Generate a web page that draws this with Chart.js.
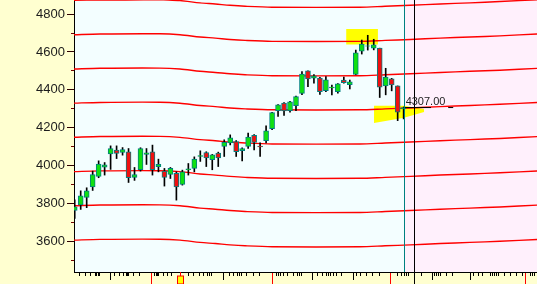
<!DOCTYPE html>
<html>
<head>
<meta charset="utf-8">
<script src="https://cdn.jsdelivr.net/npm/chart.js@4.4.1/dist/chart.umd.min.js"></script>
<style>
  html, body { margin: 0; padding: 0; background: #FFFFD0; }
  #wrap { width: 537px; height: 284px; }
</style>
</head>
<body>
<div id="wrap"><canvas id="chart" width="537" height="284"></canvas></div>
<script>
// daily candles, index 0 = first day on screen
const candleOpen  = [3765,3793,3833,3889,3944,3993,4062,4083,4070,4074,3939,3979,4060,4074,3995,3972,3954,3960,3902,3979,3986,4050,4070,4032,4067,4102,4121,4128,4080,4102,4161,4104,4132,4195,4291,4330,4291,4317,4381,4500,4462,4462,4396,4411,4391,4452,4428,4481,4604,4630,4620,4620,4421,4458,4421,4300];
const candleHigh  = [3820,3868,3884,3972,4026,4017,4105,4105,4096,4091,3991,4095,4091,4109,4035,3986,3991,3968,3977,4012,4047,4079,4074,4060,4072,4137,4163,4133,4095,4172,4165,4121,4211,4282,4323,4333,4340,4368,4496,4500,4481,4466,4470,4425,4434,4467,4452,4610,4663,4688,4667,4620,4514,4461,4421,4310];
const candleLow   = [3723,3770,3779,3870,3937,3951,3981,4038,4056,3912,3923,3972,4007,3951,3968,3893,3933,3819,3898,3951,3968,4023,3996,3979,3996,4049,4110,4049,4025,4091,4084,4050,4121,4190,4260,4265,4283,4290,4375,4417,4435,4376,4391,4374,4383,4435,4405,4480,4589,4610,4611,4360,4374,4395,4238,4247];
const candleClose = [3784,3842,3868,3954,4009,4005,4091,4065,4086,3937,3954,4091,4068,3979,4007,3938,3986,3889,3968,3984,4035,4054,4041,4058,4041,4123,4147,4075,4091,4151,4123,4100,4184,4280,4321,4289,4337,4365,4484,4458,4474,4391,4453,4415,4432,4438,4442,4596,4641,4633,4637,4414,4467,4426,4283,4307];

// axes
const yMin = 3440, yMax = 4874;
const yLabelTicks = [3600, 3800, 4000, 4200, 4400, 4600, 4800];
const yMinorTicks = [3500, 3700, 3900, 4100, 4300, 4500, 4700];
const xMin = -0.12, xMax = 77.3;
const xShortTicks = [0.77,1.77,2.68,3.44,3.68,3.90,4.11,6.69,7.46,8.24,8.58,8.80,9.03,9.80,10.80,13.38,13.60,13.81,14.05,14.82,15.48,16.15,19.00,19.83,20.84,21.51,22.17,22.51,22.84,25.85,26.52,27.19,27.53,27.86,28.76,29.87,30.87,33.66,34.11,34.45,34.88,35.55,36.56,37.22,37.56,37.89,40.57,41.47,42.14,42.47,42.81,43.24,43.70,44.65,47.04,47.83,48.71,49.83,50.94,53.95,54.62,55.07,55.52,55.85,58.03,60.20,60.54,60.87,61.20,62.21,63.21,66.66,67.56,68.23,69.57,69.90,70.23,70.57,70.90,71.91,72.91,73.91,74.80,76.25,76.59,76.92];
const xLongTicks = [5.90, 24.85, 39.68, 46.59, 59.87, 66.10];
const xMonthTicks = [12.84, 32.99, 52.76, 75.38];
const eventMark = 17.53;
const lastIdx = 55;
const cursorIdx = 56.79;

// red envelope bands
const bandX = [-0.2, 4.23, 14.26, 17.6, 20.96, 23.5, 25.97, 28.5, 33, 47.7, 51.9, 56.1, 61.1, 66.1, 71.1, 77.5];
const band1 = [4872,4875,4876,4871,4859,4853,4846,4841,4836,4836,4841,4846,4853,4859,4866,4876];
const band2 = [4691,4695,4696,4691,4679,4673,4666,4661,4656,4656,4661,4666,4673,4679,4685,4695];
const band3 = [4510,4514,4515,4510,4498,4492,4485,4480,4475,4475,4480,4485,4492,4498,4504,4514];
const band4 = [4330,4334,4335,4330,4318,4312,4305,4300,4295,4295,4300,4305,4312,4318,4324,4334];
const band5 = [4150,4154,4155,4150,4138,4132,4125,4120,4115,4115,4120,4125,4132,4138,4144,4154];
const band6 = [3969,3973,3974,3969,3957,3951,3944,3939,3934,3934,3939,3944,3951,3957,3963,3973];
const band7 = [3789,3793,3794,3789,3777,3771,3764,3759,3754,3754,3759,3764,3771,3777,3783,3793];
const band8 = [3608,3612,3613,3608,3596,3590,3583,3578,3573,3573,3578,3583,3590,3596,3602,3612];

// yellow highlight marks (index, price)
const topMarkX = [45.4, 50.7, 50.7, 45.4, 45.4];
const topMarkY = [4721, 4721, 4640, 4640, 4721];
const lowMarkX = [50.05, 55.07, 58.41, 58.41, 55.07, 50.05, 50.05];
const lowMarkY = [4316, 4316, 4300, 4284, 4253, 4226, 4316];

// current price line
const priceLineX = [55, 59.58];
const priceDashX = [62.45, 63.29];

const idx = candleOpen.map((_, i) => i);
const pts = (xs, ys) => xs.map((x, k) => ({ x: x, y: ys[k] }));

const bands = [band1, band2, band3, band4, band5, band6, band7, band8].map(b => ({
  type: 'line',
  data: pts(bandX, b),
  borderColor: '#FF0000',
  borderWidth: 1.4,
  pointRadius: 0,
  tension: 0.3,
  fill: false,
  order: 3
}));

const lastClose = candleClose[lastIdx];

const overlay = {
  id: 'overlay',
  beforeDraw(chart) {
    const { ctx, chartArea: a, scales: { x } } = chart;
    ctx.save();
    ctx.fillStyle = '#FFFFD0';
    ctx.fillRect(0, 0, chart.width, chart.height);
    ctx.fillStyle = '#F3FEFF';
    ctx.fillRect(a.left, a.top, a.width, a.height);
    const px = Math.round(x.getPixelForValue(lastIdx));
    ctx.fillStyle = '#FFF0FC';
    ctx.fillRect(px, a.top, a.right - px, a.height);
    ctx.restore();
  },
  afterDatasetsDraw(chart) {
    const { ctx, chartArea: a, scales: { x, y } } = chart;
    ctx.save();
    // teal line at the last candle
    let px = Math.round(x.getPixelForValue(lastIdx)) + 0.5;
    ctx.strokeStyle = '#008080';
    ctx.lineWidth = 1;
    ctx.beginPath();
    ctx.moveTo(px, a.top);
    ctx.lineTo(px, a.bottom);
    ctx.stroke();
    // black cursor line
    px = Math.round(x.getPixelForValue(cursorIdx)) + 0.5;
    ctx.strokeStyle = '#000';
    ctx.beginPath();
    ctx.moveTo(px, a.top);
    ctx.lineTo(px, chart.height);
    ctx.stroke();
    // last price label
    ctx.fillStyle = '#222';
    ctx.font = '11px "Liberation Sans", Arial, sans-serif';
    ctx.textBaseline = 'alphabetic';
    ctx.fillText(lastClose.toFixed(2), x.getPixelForValue(lastIdx) + 2, y.getPixelForValue(lastClose) - 3);
    // event marker on the time axis
    px = Math.round(x.getPixelForValue(eventMark)) + 0.5;
    ctx.fillStyle = '#FFFF00';
    ctx.fillRect(px - 3, a.bottom + 4, 6, 8);
    ctx.strokeStyle = '#FF0000';
    ctx.strokeRect(px - 3, a.bottom + 4, 6, 8);
    ctx.beginPath();
    ctx.moveTo(px, a.bottom);
    ctx.lineTo(px, a.bottom + 4);
    ctx.stroke();
    ctx.restore();
  }
};

const setTicks = list => scale => { scale.ticks = list.map(v => ({ value: v })); };
const zeroPad = s => { s.paddingTop = 0; s.paddingBottom = 0; s.paddingLeft = 0; s.paddingRight = 0; };

new Chart(document.getElementById('chart'), {
  type: 'line',
  data: {
    datasets: [
      {
        type: 'line',
        data: pts(priceLineX, [lastClose, lastClose]),
        borderColor: '#000',
        borderWidth: 1,
        pointRadius: 0,
        order: 0
      },
      {
        type: 'line',
        data: pts(priceDashX, [lastClose, lastClose]),
        borderColor: '#000',
        borderWidth: 1,
        pointRadius: 0,
        order: 0
      },
      {
        type: 'bar',
        data: idx.map(i => ({ x: i, y: [candleOpen[i], candleClose[i]] })),
        backgroundColor: idx.map(i => candleClose[i] >= candleOpen[i] ? '#10E010' : '#F01010'),
        borderColor: '#008080',
        borderWidth: 1,
        borderSkipped: false,
        barThickness: 5,
        grouped: false,
        order: 1
      },
      {
        type: 'bar',
        data: idx.map(i => ({ x: i, y: [candleLow[i], candleHigh[i]] })),
        backgroundColor: '#000',
        barThickness: 1,
        grouped: false,
        order: 2
      },
      ...bands,
      {
        type: 'line',
        data: pts(topMarkX, topMarkY),
        borderWidth: 0,
        backgroundColor: '#FFFF00',
        pointRadius: 0,
        fill: 'shape',
        order: 4
      },
      {
        type: 'line',
        data: pts(lowMarkX, lowMarkY),
        borderWidth: 0,
        backgroundColor: '#FFFF00',
        pointRadius: 0,
        fill: 'shape',
        order: 4
      }
    ]
  },
  options: {
    responsive: false,
    animation: false,
    devicePixelRatio: 1,
    layout: { padding: 0 },
    plugins: { legend: { display: false }, tooltip: { enabled: false } },
    scales: {
      x: {
        type: 'linear', min: xMin, max: xMax, offset: false, weight: 1,
        afterBuildTicks: setTicks(xMonthTicks),
        afterFit: s => { s.height = 12; zeroPad(s); },
        ticks: { display: false },
        grid: { drawOnChartArea: false, tickLength: 12, tickColor: '#FF0000', offset: false },
        border: { color: '#000', width: 1 }
      },
      xs: {
        type: 'linear', position: 'bottom', min: xMin, max: xMax, offset: false, weight: 0,
        afterBuildTicks: setTicks(xShortTicks),
        afterFit: s => { s.height = 0; zeroPad(s); },
        ticks: { display: false },
        grid: { drawOnChartArea: false, tickLength: 4, tickColor: '#000', offset: false },
        border: { display: false }
      },
      xl: {
        type: 'linear', position: 'bottom', min: xMin, max: xMax, offset: false, weight: 0,
        afterBuildTicks: setTicks(xLongTicks),
        afterFit: s => { s.height = 0; zeroPad(s); },
        ticks: { display: false },
        grid: { drawOnChartArea: false, tickLength: 8, tickColor: '#000', offset: false },
        border: { display: false }
      },
      y: {
        type: 'linear', position: 'left', min: yMin, max: yMax, weight: 1,
        afterBuildTicks: setTicks(yLabelTicks),
        afterFit: s => { s.width = 74; zeroPad(s); },
        ticks: {
          padding: 2,
          color: '#1c1c1c',
          font: { family: '"Liberation Sans", Arial, sans-serif', size: 13 },
          callback: v => String(v)
        },
        grid: { drawOnChartArea: false, tickLength: 7, tickColor: '#300000' },
        border: { color: '#000', width: 1 }
      },
      y2: {
        type: 'linear', position: 'left', min: yMin, max: yMax, weight: 0,
        afterBuildTicks: setTicks(yMinorTicks),
        afterFit: s => { s.width = 0; zeroPad(s); },
        ticks: { display: false },
        grid: { drawOnChartArea: false, tickLength: 3, tickColor: '#700000' },
        border: { display: false }
      }
    }
  },
  plugins: [overlay]
});
</script>
</body>
</html>
